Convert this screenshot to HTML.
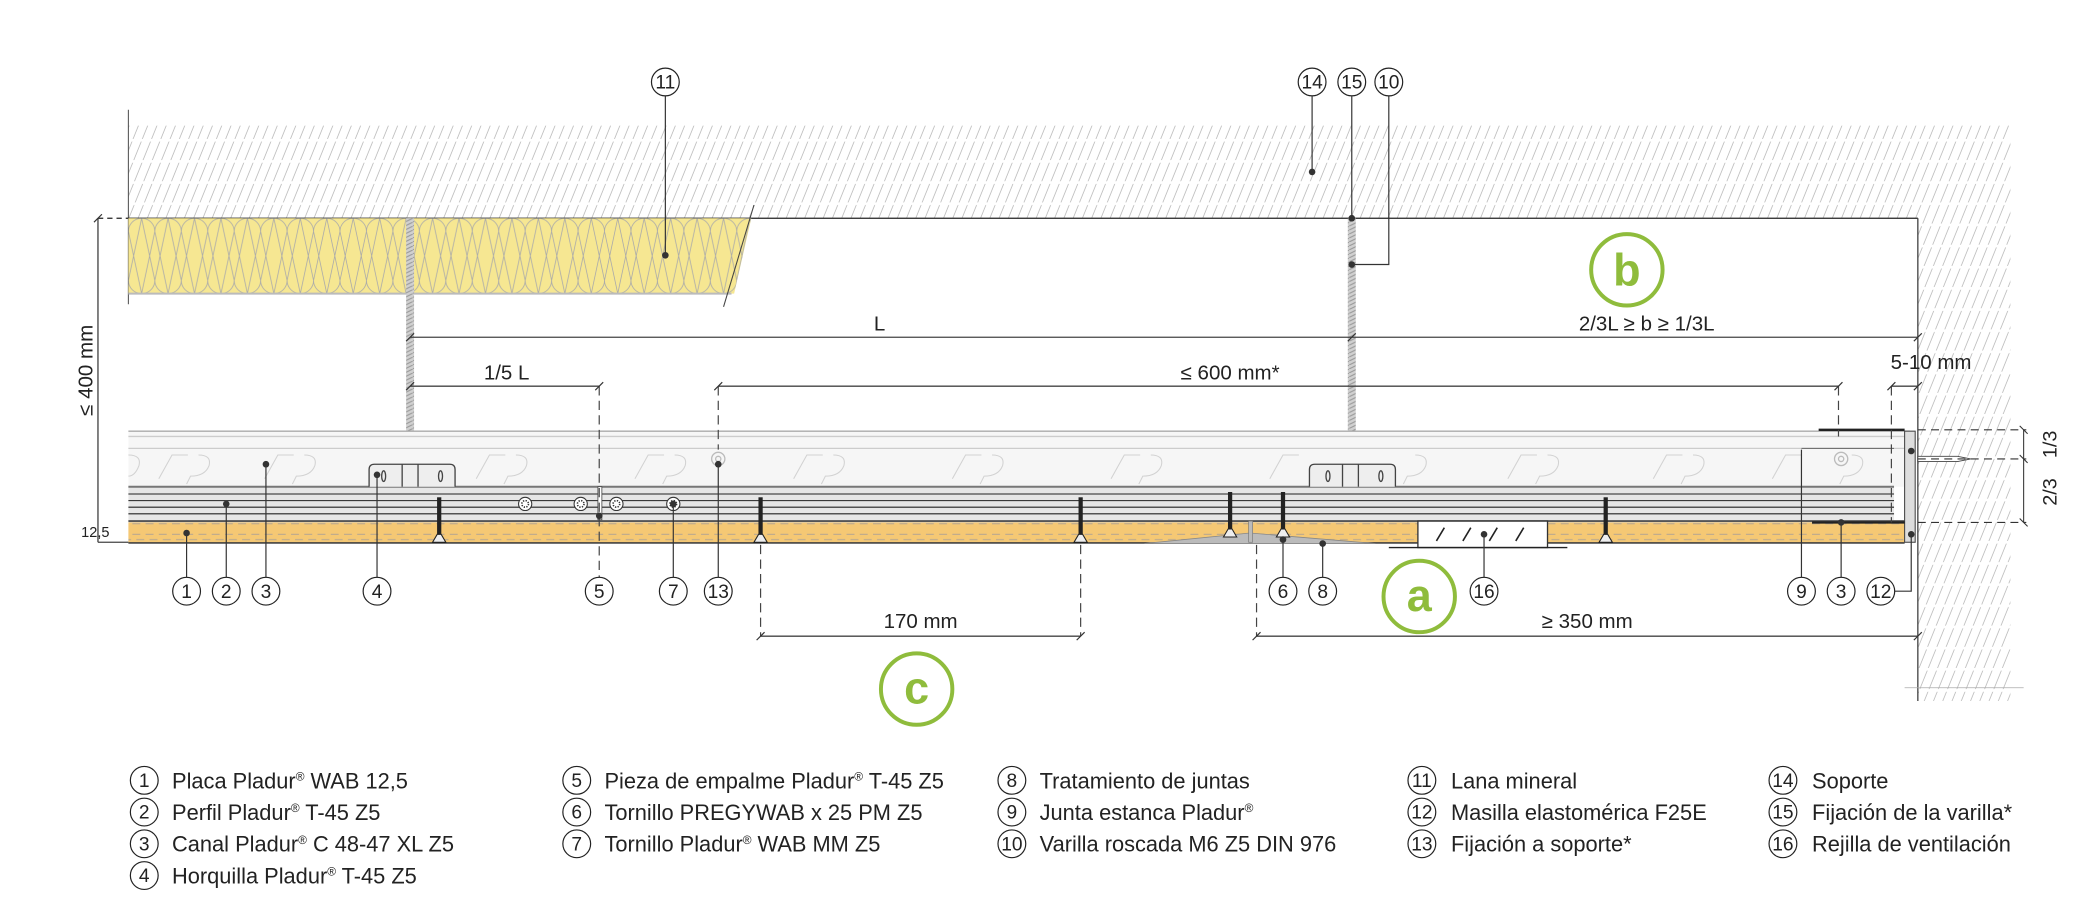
<!DOCTYPE html>
<html><head><meta charset="utf-8"><style>
html,body{margin:0;padding:0;background:#fff;}
svg{display:block;}
text{font-family:"Liberation Sans",sans-serif;fill:#222;}
</style></head><body>
<svg width="2074" height="902" viewBox="0 0 1568 682" xmlns="http://www.w3.org/2000/svg">
<defs>
<pattern id="h" patternUnits="userSpaceOnUse" width="7" height="16" patternTransform="skewX(-22)">
<line x1="3" y1="0" x2="3" y2="16" stroke="#b5b5b5" stroke-width="0.6" stroke-dasharray="9,2"/>
</pattern>
<pattern id="bd" patternUnits="userSpaceOnUse" width="10" height="16">
<rect width="10" height="16" fill="#f5c874"/>
<line x1="0" y1="4" x2="6" y2="4" stroke="#b8a890" stroke-width="0.8"/>
<line x1="3" y1="8" x2="9" y2="8" stroke="#b8a890" stroke-width="0.8"/>
<line x1="0" y1="12" x2="6" y2="12" stroke="#b8a890" stroke-width="0.8"/>
</pattern>
<pattern id="rod" patternUnits="userSpaceOnUse" width="6" height="3">
<rect width="6" height="3" fill="#d0d0d0"/>
<line x1="0" y1="3" x2="6" y2="0" stroke="#999" stroke-width="0.8"/>
</pattern>
<pattern id="ins" patternUnits="userSpaceOnUse" x="97" y="165" width="20" height="57">
<rect width="20" height="57" fill="#f6e792"/>
<path d="M0,10 A10,10 0 0 1 20,10 M0,10 L10,57 M20,10 L10,57 M10,0 L0,47 M10,0 L20,47 M0,47 A10,10 0 0 0 20,47" fill="none" stroke="#aaa" stroke-width="0.6"/>
</pattern>
<g id="scr"><rect x="-1.6" y="0" width="3.2" height="30" fill="#222"/><path d="M-5,34 L5,34 L1.5,28 L-1.5,28Z" fill="#eee" stroke="#222" stroke-width="0.8"/></g>
<g id="sf"><circle r="5" fill="#fff" stroke="#333" stroke-width="0.8"/><circle r="2.5" fill="none" stroke="#333" stroke-width="1.2" stroke-dasharray="1,1"/></g>
</defs>

<rect x="97" y="95" width="1423" height="70" fill="url(#h)"/>
<rect x="1450" y="165" width="70" height="365" fill="url(#h)"/>
<line x1="97" y1="83" x2="97" y2="230" stroke="#555" stroke-width="0.8"/>
<line x1="310" y1="165" x2="1450" y2="165" stroke="#222" stroke-width="1"/>
<line x1="74" y1="165" x2="97" y2="165" stroke="#222" stroke-dasharray="4,3"/>
<line x1="97" y1="165" x2="310" y2="165" stroke="#222"/>
<line x1="1450" y1="165" x2="1450" y2="530" stroke="#444" stroke-width="1"/>
<line x1="1440" y1="520" x2="1530" y2="520" stroke="#aaa" stroke-width="0.6"/>

<polygon points="97,165 568,165 555,222 97,222" fill="url(#ins)"/>
<line x1="97" y1="222" x2="553" y2="222" stroke="#bbb" stroke-width="1.5"/>
<line x1="570" y1="155" x2="547" y2="232" stroke="#444" stroke-width="0.8"/>

<rect x="307" y="165" width="6" height="197" fill="url(#rod)"/>
<rect x="1019" y="165" width="6" height="197" fill="url(#rod)"/>

<rect x="97" y="326" width="1347" height="42" fill="#f6f6f6"/>
<line x1="97" y1="326" x2="1444" y2="326" stroke="#aaa"/>
<line x1="97" y1="330" x2="1444" y2="330" stroke="#ccc"/>
<line x1="97" y1="339" x2="1444" y2="339" stroke="#ccc"/>
<g fill="none" stroke="#d2d2d2" stroke-width="0.8">
<path d="M97,344 q10,0 8,8 q-3,8 -8,8 M120,362 l10,-18 l12,0 M150,344 q10,0 8,8 q-3,8 -14,8 l-3,6 M200,362 l10,-18 l12,0 M230,344 q10,0 8,8 q-3,8 -14,8 l-3,6 M360,362 l10,-18 l12,0 M390,344 q10,0 8,8 q-3,8 -14,8 l-3,6 M480,362 l10,-18 l12,0 M510,344 q10,0 8,8 q-3,8 -14,8 l-3,6 M600,362 l10,-18 l12,0 M630,344 q10,0 8,8 q-3,8 -14,8 l-3,6 M720,362 l10,-18 l12,0 M750,344 q10,0 8,8 q-3,8 -14,8 l-3,6 M840,362 l10,-18 l12,0 M870,344 q10,0 8,8 q-3,8 -14,8 l-3,6 M960,362 l10,-18 l12,0 M1070,344 q10,0 8,8 q-3,8 -14,8 l-3,6 M1140,362 l10,-18 l12,0 M1170,344 q10,0 8,8 q-3,8 -14,8 l-3,6 M1250,362 l10,-18 l12,0 M1280,344 q10,0 8,8 q-3,8 -14,8 l-3,6 M1340,362 l10,-18 l12,0 M1400,344 q10,0 8,8 q-3,8 -14,8 l-3,6"/>
</g>
<rect x="97" y="368" width="1335" height="26" fill="#e6e6e6"/>
<line x1="97" y1="368" x2="1432" y2="368" stroke="#777" stroke-width="1.5"/>
<line x1="97" y1="373.5" x2="1432" y2="373.5" stroke="#222" stroke-width="0.8"/>
<line x1="97" y1="378.5" x2="1432" y2="378.5" stroke="#222" stroke-width="0.8"/>
<line x1="97" y1="383.5" x2="1432" y2="383.5" stroke="#222" stroke-width="0.8"/>
<line x1="97" y1="388.5" x2="1432" y2="388.5" stroke="#222" stroke-width="0.8"/>
<line x1="97" y1="394" x2="1440" y2="394" stroke="#555" stroke-width="1.5"/>
<rect x="97" y="395" width="1343" height="15" fill="url(#bd)"/>
<line x1="97" y1="410.5" x2="1440" y2="410.5" stroke="#222" stroke-width="1"/>
<path d="M865,411 L945,403 L1040,411 Z" fill="#bbb" stroke="#888" stroke-width="0.6"/>
<rect x="944" y="394" width="3" height="16" fill="#bbb" stroke="#777" stroke-width="0.5"/>
<rect x="1072" y="394" width="98" height="20" fill="#fff" stroke="#333" stroke-width="1"/>
<line x1="1050" y1="414" x2="1185" y2="414" stroke="#222" stroke-width="1"/>
<g stroke="#222" stroke-width="1.2"><line x1="1086" y1="409" x2="1092" y2="399"/><line x1="1106" y1="409" x2="1112" y2="399"/><line x1="1126" y1="409" x2="1132" y2="399"/><line x1="1146" y1="409" x2="1152" y2="399"/></g>

<g fill="#eee" stroke="#444" stroke-width="1">
<path d="M279,368 L279,355 q0,-4 4,-4 L340,351 q4,0 4,4 L344,368"/>
<line x1="304" y1="351" x2="304" y2="368"/><line x1="316" y1="351" x2="316" y2="368"/>
<ellipse cx="290" cy="360" rx="1.5" ry="4"/><ellipse cx="333" cy="360" rx="1.5" ry="4"/>
<path d="M990,368 L990,355 q0,-4 4,-4 L1051,351 q4,0 4,4 L1055,368"/>
<line x1="1015" y1="351" x2="1015" y2="368"/><line x1="1027" y1="351" x2="1027" y2="368"/>
<ellipse cx="1004" cy="360" rx="1.5" ry="4"/><ellipse cx="1044" cy="360" rx="1.5" ry="4"/>
</g>
<use href="#scr" x="332" y="376"/><use href="#scr" x="575" y="376"/><use href="#scr" x="817" y="376"/>
<use href="#scr" x="930" y="372"/><use href="#scr" x="970" y="372"/><use href="#scr" x="1214" y="376"/>
<use href="#sf" x="397" y="381"/><use href="#sf" x="439" y="381"/><use href="#sf" x="466" y="381"/><use href="#sf" x="509" y="381"/>
<rect x="452" y="368" width="3" height="25" fill="#fff" stroke="#444" stroke-width="0.6"/>
<circle cx="543" cy="347" r="5" fill="none" stroke="#bbb"/><circle cx="543" cy="347" r="2" fill="none" stroke="#bbb"/>
<circle cx="1392" cy="347" r="5" fill="none" stroke="#bbb"/><circle cx="1392" cy="347" r="2" fill="none" stroke="#bbb"/>

<rect x="1440" y="326" width="8" height="84" fill="#ddd" stroke="#444" stroke-width="0.8"/>
<line x1="1375" y1="325" x2="1440" y2="325" stroke="#222" stroke-width="1.8"/>
<line x1="1370" y1="395" x2="1440" y2="395" stroke="#222" stroke-width="1.8"/>
<line x1="1362" y1="339" x2="1432" y2="339" stroke="#666" stroke-width="0.8"/>
<path d="M1450,345 L1480,345 L1490,347 L1480,349 L1450,349Z" fill="#fff" stroke="#444" stroke-width="0.7"/>
<g stroke="#333" stroke-width="0.8" stroke-dasharray="6,4">
<line x1="1450" y1="325" x2="1532" y2="325"/><line x1="1450" y1="347" x2="1532" y2="347"/><line x1="1450" y1="395" x2="1532" y2="395"/>
</g>
<line x1="1530" y1="325" x2="1530" y2="395" stroke="#333" stroke-width="0.8"/>
<g stroke="#333" stroke-width="0.8"><line x1="1527" y1="322" x2="1533" y2="328"/><line x1="1527" y1="344" x2="1533" y2="350"/><line x1="1527" y1="392" x2="1533" y2="398"/></g>
<text transform="translate(1555,336) rotate(-90)" font-size="15" text-anchor="middle">1/3</text>
<text transform="translate(1555,372) rotate(-90)" font-size="15" text-anchor="middle">2/3</text>

<g stroke="#444" stroke-width="1" fill="none">
<line x1="74" y1="165" x2="74" y2="410"/>
<line x1="310" y1="255" x2="1450" y2="255"/>
<line x1="310" y1="292" x2="453" y2="292"/>
<line x1="543" y1="292" x2="1390" y2="292"/>
<line x1="1430" y1="292" x2="1450" y2="292"/>
<line x1="575" y1="481" x2="817" y2="481"/>
<line x1="950" y1="481" x2="1450" y2="481"/>
<line x1="74" y1="410" x2="97" y2="410"/>
</g>
<g stroke="#444" stroke-width="0.9" stroke-dasharray="7,4">
<line x1="453" y1="292" x2="453" y2="450"/>
<line x1="543" y1="292" x2="543" y2="340"/>
<line x1="1390" y1="292" x2="1390" y2="330"/>
<line x1="1430" y1="292" x2="1430" y2="395"/>
<line x1="575" y1="412" x2="575" y2="481"/>
<line x1="817" y1="412" x2="817" y2="481"/>
<line x1="950" y1="412" x2="950" y2="481"/>
</g>
<g stroke="#333" stroke-width="0.9">
<line x1="71" y1="168" x2="77" y2="162"/><line x1="307" y1="258" x2="313" y2="252"/><line x1="1019" y1="258" x2="1025" y2="252"/><line x1="1447" y1="258" x2="1453" y2="252"/>
<line x1="307" y1="295" x2="313" y2="289"/><line x1="450" y1="295" x2="456" y2="289"/><line x1="540" y1="295" x2="546" y2="289"/><line x1="1387" y1="295" x2="1393" y2="289"/><line x1="1427" y1="295" x2="1433" y2="289"/><line x1="1447" y1="295" x2="1453" y2="289"/>
<line x1="572" y1="484" x2="578" y2="478"/><line x1="814" y1="484" x2="820" y2="478"/><line x1="947" y1="484" x2="953" y2="478"/><line x1="1447" y1="484" x2="1453" y2="478"/>
</g>
<g font-size="15.5">
<text x="665" y="250" text-anchor="middle">L</text>
<text x="1245" y="250" text-anchor="middle">2/3L ≥ b ≥ 1/3L</text>
<text x="383" y="287" text-anchor="middle">1/5 L</text>
<text x="930" y="287" text-anchor="middle">≤ 600 mm*</text>
<text x="1460" y="279" text-anchor="middle">5-10 mm</text>
<text x="696" y="475" text-anchor="middle">170 mm</text>
<text x="1200" y="475" text-anchor="middle">≥  350 mm</text>
<text transform="translate(70,280) rotate(-90)" text-anchor="middle">≤ 400 mm</text>
<text x="72" y="406" font-size="11" text-anchor="middle">12,5</text>
</g>

<g fill="none" stroke="#8fbc3c" stroke-width="3">
<circle cx="1230" cy="204" r="27"/><circle cx="1073" cy="451" r="27"/><circle cx="693" cy="521" r="27"/>
</g>
<g font-size="34" font-weight="bold" text-anchor="middle">
<text x="1230" y="216" style="fill:#8fbc3c">b</text>
<text x="1073" y="462" style="fill:#8fbc3c">a</text>
<text x="693" y="532" style="fill:#8fbc3c">c</text>
</g>

<g stroke="#333" stroke-width="0.9" fill="none">
<line x1="503" y1="73" x2="503" y2="193"/>
<line x1="992" y1="73" x2="992" y2="130"/>
<line x1="1022" y1="73" x2="1022" y2="165"/>
<polyline points="1050,73 1050,200 1022,200"/>
<line x1="141" y1="437" x2="141" y2="403"/>
<line x1="171" y1="437" x2="171" y2="381"/>
<line x1="201" y1="437" x2="201" y2="351"/>
<line x1="285" y1="437" x2="285" y2="359"/>
<line x1="509" y1="437" x2="509" y2="381"/>
<line x1="543" y1="437" x2="543" y2="350"/>
<line x1="970" y1="437" x2="970" y2="408"/>
<line x1="1000" y1="437" x2="1000" y2="411"/>
<line x1="1122" y1="437" x2="1122" y2="404"/>
<line x1="1362" y1="437" x2="1362" y2="340"/>
<line x1="1392" y1="437" x2="1392" y2="395"/>
<polyline points="1432,447 1445,447 1445,404"/>
</g>
<g fill="#333">
<circle cx="503" cy="193" r="2.5"/><circle cx="992" cy="130" r="2.5"/><circle cx="1022" cy="165" r="2.5"/><circle cx="1022" cy="200" r="2.5"/>
<circle cx="141" cy="403" r="2.5"/><circle cx="171" cy="381" r="2.5"/><circle cx="201" cy="351" r="2.5"/><circle cx="285" cy="359" r="2.5"/><circle cx="453" cy="390" r="2.5"/><circle cx="509" cy="381" r="2.5"/><circle cx="543" cy="351" r="2.5"/>
<circle cx="970" cy="408" r="2.5"/><circle cx="1000" cy="411" r="2.5"/><circle cx="1122" cy="404" r="2.5"/><circle cx="1392" cy="395" r="2.5"/><circle cx="1445" cy="404" r="2.5"/><circle cx="1445" cy="341" r="2.5"/>
</g>

<g fill="#fff" stroke="#222" stroke-width="0.9">
<circle cx="503" cy="62" r="10.5"/><circle cx="992" cy="62" r="10.5"/><circle cx="1022" cy="62" r="10.5"/><circle cx="1050" cy="62" r="10.5"/>
<circle cx="141" cy="447" r="10.5"/><circle cx="171" cy="447" r="10.5"/><circle cx="201" cy="447" r="10.5"/><circle cx="285" cy="447" r="10.5"/><circle cx="453" cy="447" r="10.5"/><circle cx="509" cy="447" r="10.5"/><circle cx="543" cy="447" r="10.5"/>
<circle cx="970" cy="447" r="10.5"/><circle cx="1000" cy="447" r="10.5"/><circle cx="1122" cy="447" r="10.5"/><circle cx="1362" cy="447" r="10.5"/><circle cx="1392" cy="447" r="10.5"/><circle cx="1422" cy="447" r="10.5"/>
</g>
<g font-size="14.5" text-anchor="middle">
<text x="503" y="67">11</text><text x="992" y="67">14</text><text x="1022" y="67">15</text><text x="1050" y="67">10</text>
<text x="141" y="452">1</text><text x="171" y="452">2</text><text x="201" y="452">3</text><text x="285" y="452">4</text><text x="453" y="452">5</text><text x="509" y="452">7</text><text x="543" y="452">13</text>
<text x="970" y="452">6</text><text x="1000" y="452">8</text><text x="1122" y="452">16</text><text x="1362" y="452">9</text><text x="1392" y="452">3</text><text x="1422" y="452">12</text>
</g>

<g fill="#fff" stroke="#222" stroke-width="0.9">
<circle cx="109" cy="590" r="10.5"/><circle cx="109" cy="614" r="10.5"/><circle cx="109" cy="638" r="10.5"/><circle cx="109" cy="662" r="10.5"/>
<circle cx="436" cy="590" r="10.5"/><circle cx="436" cy="614" r="10.5"/><circle cx="436" cy="638" r="10.5"/>
<circle cx="765" cy="590" r="10.5"/><circle cx="765" cy="614" r="10.5"/><circle cx="765" cy="638" r="10.5"/>
<circle cx="1075" cy="590" r="10.5"/><circle cx="1075" cy="614" r="10.5"/><circle cx="1075" cy="638" r="10.5"/>
<circle cx="1348" cy="590" r="10.5"/><circle cx="1348" cy="614" r="10.5"/><circle cx="1348" cy="638" r="10.5"/>
</g>
<g font-size="14.5" text-anchor="middle">
<text x="109" y="595">1</text><text x="109" y="619">2</text><text x="109" y="643">3</text><text x="109" y="667">4</text>
<text x="436" y="595">5</text><text x="436" y="619">6</text><text x="436" y="643">7</text>
<text x="765" y="595">8</text><text x="765" y="619">9</text><text x="765" y="643">10</text>
<text x="1075" y="595">11</text><text x="1075" y="619">12</text><text x="1075" y="643">13</text>
<text x="1348" y="595">14</text><text x="1348" y="619">15</text><text x="1348" y="643">16</text>
</g>
<g font-size="16.5">
<text x="130" y="596">Placa Pladur<tspan font-size="9" dy="-6">®</tspan><tspan dy="6"> WAB 12,5</tspan></text>
<text x="130" y="620">Perfil Pladur<tspan font-size="9" dy="-6">®</tspan><tspan dy="6"> T-45 Z5</tspan></text>
<text x="130" y="644">Canal Pladur<tspan font-size="9" dy="-6">®</tspan><tspan dy="6"> C 48-47 XL Z5</tspan></text>
<text x="130" y="668">Horquilla Pladur<tspan font-size="9" dy="-6">®</tspan><tspan dy="6"> T-45 Z5</tspan></text>
<text x="457" y="596">Pieza de empalme Pladur<tspan font-size="9" dy="-6">®</tspan><tspan dy="6"> T-45 Z5</tspan></text>
<text x="457" y="620">Tornillo PREGYWAB x 25 PM Z5</text>
<text x="457" y="644">Tornillo Pladur<tspan font-size="9" dy="-6">®</tspan><tspan dy="6"> WAB MM Z5</tspan></text>
<text x="786" y="596">Tratamiento de juntas</text>
<text x="786" y="620">Junta estanca Pladur<tspan font-size="9" dy="-6">®</tspan></text>
<text x="786" y="644">Varilla roscada M6 Z5 DIN 976</text>
<text x="1097" y="596">Lana mineral</text>
<text x="1097" y="620">Masilla elastomérica F25E</text>
<text x="1097" y="644">Fijación a soporte*</text>
<text x="1370" y="596">Soporte</text>
<text x="1370" y="620">Fijación de la varilla*</text>
<text x="1370" y="644">Rejilla de ventilación</text>
</g>
</svg>
</body></html>
